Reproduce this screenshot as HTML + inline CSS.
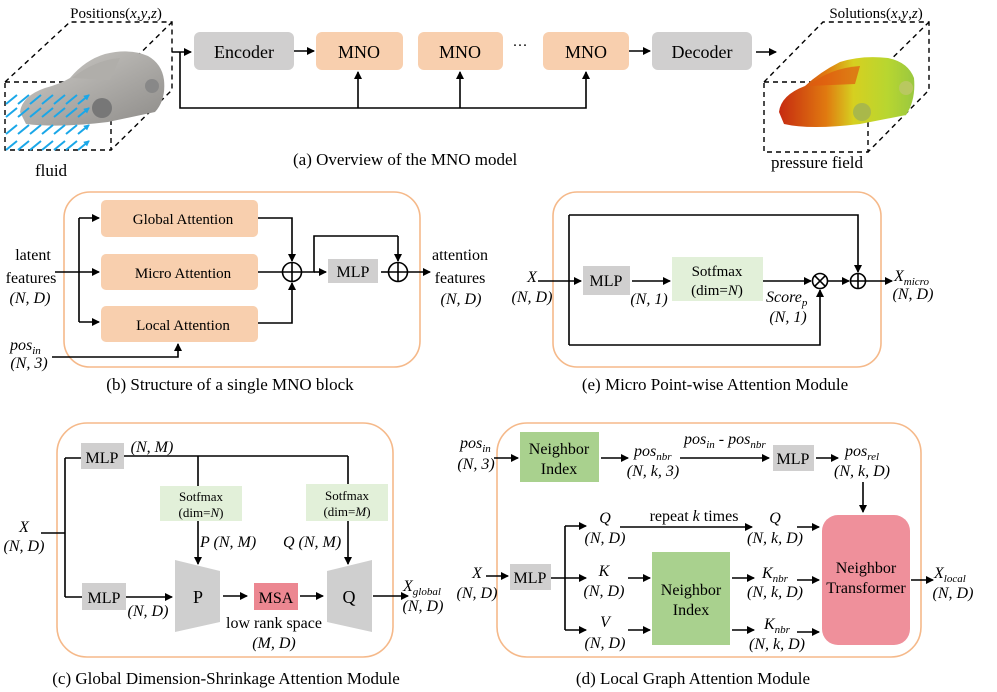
<!DOCTYPE html>
<html><head><meta charset="utf-8"><style>
html,body{margin:0;padding:0;background:#fff;}
svg{display:block;font-family:"Liberation Serif",serif;}
.i{font-style:italic}
</style></head><body>
<svg width="997" height="692" viewBox="0 0 997 692" xmlns="http://www.w3.org/2000/svg">
<defs>
<marker id="a" markerWidth="8" markerHeight="8" refX="7" refY="4" orient="auto" markerUnits="userSpaceOnUse"><path d="M0,0 L8,4 L0,8 z" fill="#000"/></marker>
<marker id="b" markerWidth="6" markerHeight="6" refX="5" refY="3" orient="auto" markerUnits="userSpaceOnUse"><path d="M0,0 L6,3 L0,6 z" fill="#1aa7e8"/></marker>
<linearGradient id="cg" x1="0" y1="0" x2="1" y2="1"><stop offset="0" stop-color="#cfcdc9"/><stop offset="1" stop-color="#8d8b88"/></linearGradient>
<linearGradient id="pg" x1="0" y1="0" x2="1" y2="0"><stop offset="0" stop-color="#c62a10"/><stop offset="0.35" stop-color="#e07a10"/><stop offset="0.55" stop-color="#d6d020"/><stop offset="0.8" stop-color="#b8d630"/><stop offset="1" stop-color="#9ac840"/></linearGradient>
</defs>
<g stroke="#000" stroke-width="1.6" fill="none">
<g stroke-dasharray="5,4" stroke-width="1.4">
<rect x="5" y="82" width="106" height="68"/>
<path d="M5,82 L70,22 L172,22 L172,90 L111,150 M111,82 L172,22"/>
<rect x="764" y="82" width="104" height="70"/>
<path d="M764,82 L823,22 L929,22 L929,90 L868,152 M868,82 L929,22"/>
</g>
</g>
<!-- gray car -->
<path d="M20,112 Q22,96 45,88 Q60,84 70,78 Q85,60 105,54 Q130,48 148,56 Q162,64 164,80 Q166,100 155,112 L108,122 Q60,128 26,124 Z" fill="url(#cg)"/>
<path d="M72,78 Q95,60 120,58 L110,80 Z" fill="#b0aeaa"/>
<circle cx="102" cy="108" r="10" fill="#777"/><circle cx="152" cy="86" r="7" fill="#888"/>
<!-- blue arrows -->
<g stroke="#1aa7e8" stroke-width="2" marker-end="url(#b)">
<path d="M6,104 l11,-9 M18,104 l11,-9 M30,104 l11,-9 M42,104 l11,-9 M54,104 l11,-9 M66,104 l11,-9 M78,104 l11,-9"/>
<path d="M6,117 l11,-9 M18,117 l11,-9 M30,117 l11,-9 M42,117 l11,-9 M54,117 l11,-9 M66,117 l11,-9 M78,117 l11,-9"/>
<path d="M6,134 l11,-9 M18,134 l11,-9 M30,134 l11,-9 M42,134 l11,-9 M54,134 l11,-9 M66,134 l11,-9 M78,134 l11,-9"/>
<path d="M6,150 l11,-9 M18,150 l11,-9 M30,150 l11,-9 M42,150 l11,-9 M54,150 l11,-9 M66,150 l11,-9 M78,150 l11,-9"/>
</g>
<!-- pressure car -->
<path d="M779,112 Q781,95 805,86 Q820,72 840,62 Q862,55 888,58 Q908,62 914,78 Q916,100 906,115 L860,124 Q810,130 784,124 Z" fill="url(#pg)"/>
<path d="M808,86 Q830,68 860,66 L855,84 Z" fill="#e05a10" opacity="0.7"/>
<circle cx="862" cy="112" r="9" fill="#a9b84a"/><circle cx="906" cy="88" r="7" fill="#b9c860"/>
<text x="116" y="18" font-size="15" text-anchor="middle">Positions(<tspan class="i">x</tspan>,<tspan class="i">y</tspan>,<tspan class="i">z</tspan>)</text>
<text x="51" y="176" font-size="17" text-anchor="middle">fluid</text>
<text x="876" y="18" font-size="15" text-anchor="middle">Solutions(<tspan class="i">x</tspan>,<tspan class="i">y</tspan>,<tspan class="i">z</tspan>)</text>
<text x="817" y="168" font-size="17" text-anchor="middle">pressure field</text>
<rect x="194" y="32" width="100" height="38" rx="6" fill="#d0cfcf"/>
<text x="244" y="58" font-size="18" text-anchor="middle">Encoder</text>
<rect x="316" y="32" width="87" height="38" rx="6" fill="#f8cfae"/>
<text x="359" y="58" font-size="18" text-anchor="middle">MNO</text>
<rect x="418" y="32" width="85" height="38" rx="6" fill="#f8cfae"/>
<text x="460" y="58" font-size="18" text-anchor="middle">MNO</text>
<text x="520" y="50" font-size="15" text-anchor="middle">···</text>
<rect x="543" y="32" width="86" height="38" rx="6" fill="#f8cfae"/>
<text x="586" y="58" font-size="18" text-anchor="middle">MNO</text>
<rect x="652" y="32" width="100" height="38" rx="6" fill="#d0cfcf"/>
<text x="702" y="58" font-size="18" text-anchor="middle">Decoder</text>
<g stroke="#000" stroke-width="1.6" fill="none" marker-end="url(#a)">
<path d="M172,52 L191,52"/>
<path d="M294,51 L314,51"/>
<path d="M629,51 L650,51"/>
<path d="M756,52 L776,52"/>
<path d="M358,108 L358,72"/>
<path d="M460,108 L460,72"/>
<path d="M180,52 L180,108 L586,108 L586,72"/>
</g>
<text x="293" y="165" font-size="17">(a)  Overview of the MNO model</text>

<!-- Panel b -->
<rect x="64" y="192" width="356" height="175" rx="26" fill="none" stroke="#f5b98a" stroke-width="1.6"/>
<rect x="101" y="200" width="157" height="37" rx="5" fill="#f8cfae"/>
<rect x="101" y="254" width="157" height="36" rx="5" fill="#f8cfae"/>
<rect x="101" y="306" width="157" height="36" rx="5" fill="#f8cfae"/>
<text x="183" y="224" font-size="15" text-anchor="middle">Global Attention</text>
<text x="183" y="278" font-size="15" text-anchor="middle">Micro Attention</text>
<text x="183" y="330" font-size="15" text-anchor="middle">Local Attention</text>
<rect x="328" y="259" width="50" height="24" fill="#d0cfcf"/>
<text x="353" y="277" font-size="16" text-anchor="middle">MLP</text>
<g stroke="#000" stroke-width="1.6" fill="none">
<circle cx="292" cy="272" r="9.5"/><path d="M282.5,272 h19 M292,262.5 v19"/>
<circle cx="398" cy="272" r="9.5"/><path d="M388.5,272 h19 M398,262.5 v19"/>
<path d="M55,272 L79,272 M79,218 L79,322"/>
<path d="M302,272 L314,272 L314,236 L398,236"/>
<path d="M381,272 L388,272"/>
<path d="M258,272 L282,272"/>
</g>
<g stroke="#000" stroke-width="1.6" fill="none" marker-end="url(#a)">
<path d="M79,218 L99,218"/><path d="M79,272 L99,272"/><path d="M79,322 L99,322"/>
<path d="M258,218 L292,218 L292,261"/>
<path d="M258,323 L292,323 L292,283"/>
<path d="M314,272 L326,272"/>
<path d="M398,236 L398,261"/>
<path d="M408,272 L430,272"/>
<path d="M52,357 L178,357 L178,344"/>
</g>
<text x="33" y="260" font-size="16" text-anchor="middle">latent</text>
<text x="31" y="283" font-size="16" text-anchor="middle">features</text>
<text x="30" y="303" font-size="16" text-anchor="middle" class="i">(N, D)</text>
<text x="460" y="260" font-size="16" text-anchor="middle">attention</text>
<text x="460" y="283" font-size="16" text-anchor="middle">features</text>
<text x="461" y="304" font-size="16" text-anchor="middle" class="i">(N, D)</text>
<text x="10" y="350" font-size="16" class="i">pos<tspan font-size="11" dy="4">in</tspan></text>
<text x="29" y="368" font-size="16" text-anchor="middle" class="i">(N, 3)</text>
<text x="230" y="390" font-size="17" text-anchor="middle">(b) Structure of a single MNO block</text>

<!-- Panel e -->
<rect x="553" y="192" width="328" height="175" rx="24" fill="none" stroke="#f5b98a" stroke-width="1.6"/>
<rect x="583" y="266" width="47" height="29" fill="#d0cfcf"/>
<text x="606" y="286" font-size="16" text-anchor="middle">MLP</text>
<rect x="672" y="257" width="91" height="44" fill="#e2f0d9"/>
<text x="717" y="276" font-size="15" text-anchor="middle">Sotfmax</text>
<text x="717" y="295" font-size="15" text-anchor="middle">(dim=<tspan class="i">N</tspan>)</text>
<g stroke="#000" stroke-width="1.6" fill="none">
<circle cx="820" cy="281" r="7.5"/><path d="M814.7,275.7 l10.6,10.6 M825.3,275.7 l-10.6,10.6"/>
<circle cx="858" cy="281" r="7.5"/><path d="M850.5,281 h15 M858,273.5 v15"/>
<path d="M569,215 L569,345"/>
</g>
<g stroke="#000" stroke-width="1.6" fill="none" marker-end="url(#a)">
<path d="M538,281 L581,281"/>
<path d="M632,281 L670,281"/>
<path d="M763,281 L811,281"/>
<path d="M828,281 L849,281"/>
<path d="M569,215 L858,215 L858,272"/>
<path d="M569,345 L820,345 L820,290"/>
<path d="M866,281 L892,281"/>
</g>
<text x="532" y="282" font-size="16" text-anchor="middle" class="i">X</text>
<text x="532" y="302" font-size="16" text-anchor="middle" class="i">(N, D)</text>
<text x="649" y="304" font-size="16" text-anchor="middle" class="i">(N, 1)</text>
<text x="766" y="302" font-size="16" class="i">Score<tspan font-size="11" dy="4">p</tspan></text>
<text x="788" y="322" font-size="16" text-anchor="middle" class="i">(N, 1)</text>
<text x="894" y="281" font-size="16" class="i">X<tspan font-size="11" dy="4">micro</tspan></text>
<text x="913" y="299" font-size="16" text-anchor="middle" class="i">(N, D)</text>
<text x="715" y="390" font-size="17" text-anchor="middle">(e) Micro Point-wise Attention Module</text>

<!-- Panel c -->
<rect x="57" y="423" width="336" height="234" rx="30" fill="none" stroke="#f5b98a" stroke-width="1.6"/>
<rect x="81" y="443" width="43" height="26" fill="#d0cfcf"/>
<text x="102" y="463" font-size="16" text-anchor="middle">MLP</text>
<rect x="82" y="583" width="44" height="27" fill="#d0cfcf"/>
<text x="104" y="603" font-size="16" text-anchor="middle">MLP</text>
<rect x="160" y="486" width="82" height="35" fill="#e2f0d9"/>
<text x="201" y="501" font-size="13" text-anchor="middle">Sotfmax</text>
<text x="201" y="517" font-size="13" text-anchor="middle">(dim=<tspan class="i">N</tspan>)</text>
<rect x="306" y="484" width="82" height="37" fill="#e2f0d9"/>
<text x="347" y="500" font-size="13" text-anchor="middle">Sotfmax</text>
<text x="347" y="516" font-size="13" text-anchor="middle">(dim=<tspan class="i">M</tspan>)</text>
<path d="M175,560 L220,571 L220,622 L175,632 Z" fill="#cfcfcf"/>
<text x="198" y="603" font-size="18" text-anchor="middle">P</text>
<path d="M327,571 L372,560 L372,632 L327,622 Z" fill="#cfcfcf"/>
<text x="349" y="603" font-size="18" text-anchor="middle">Q</text>
<rect x="254" y="583" width="44" height="27" fill="#ec8791"/>
<text x="276" y="603" font-size="16" text-anchor="middle">MSA</text>
<g stroke="#000" stroke-width="1.6" fill="none">
<path d="M41,533 L65,533 M65,458 L65,597 M65,458 L81,458 M65,597 L82,597"/>
<path d="M124,456 L348,456 M198,456 L198,486 M348,456 L348,484"/>
</g>
<g stroke="#000" stroke-width="1.6" fill="none" marker-end="url(#a)">
<path d="M198,521 L198,564"/>
<path d="M348,521 L348,564"/>
<path d="M126,597 L172,597"/>
<path d="M223,596 L247,596"/>
<path d="M300,596 L323,596"/>
<path d="M373,596 L408,596"/>
</g>
<text x="24" y="532" font-size="16" text-anchor="middle" class="i">X</text>
<text x="24" y="551" font-size="16" text-anchor="middle" class="i">(N, D)</text>
<text x="152" y="452" font-size="16" text-anchor="middle" class="i">(N, M)</text>
<text x="200" y="547" font-size="16" class="i">P (N, M)</text>
<text x="283" y="547" font-size="16" class="i">Q (N, M)</text>
<text x="148" y="616" font-size="16" text-anchor="middle" class="i">(N, D)</text>
<text x="274" y="628" font-size="16" text-anchor="middle">low rank space</text>
<text x="274" y="648" font-size="16" text-anchor="middle" class="i">(M, D)</text>
<text x="403" y="591" font-size="16" class="i">X<tspan font-size="11" dy="4">global</tspan></text>
<text x="423" y="611" font-size="16" text-anchor="middle" class="i">(N, D)</text>
<text x="226" y="684" font-size="17" text-anchor="middle">(c) Global Dimension-Shrinkage Attention Module</text>

<!-- Panel d -->
<rect x="497" y="423" width="424" height="234" rx="30" fill="none" stroke="#f5b98a" stroke-width="1.6"/>
<rect x="520" y="432" width="79" height="50" fill="#a9d18e"/>
<text x="559" y="454" font-size="16" text-anchor="middle">Neighbor</text>
<text x="559" y="474" font-size="16" text-anchor="middle">Index</text>
<rect x="773" y="445" width="41" height="26" fill="#d0cfcf"/>
<text x="793" y="464" font-size="16" text-anchor="middle">MLP</text>
<rect x="822" y="515" width="88" height="130" rx="16" fill="#ef909b"/>
<text x="866" y="573" font-size="16" text-anchor="middle">Neighbor</text>
<text x="866" y="593" font-size="16" text-anchor="middle">Transformer</text>
<rect x="510" y="564" width="41" height="26" fill="#d0cfcf"/>
<text x="530" y="583" font-size="16" text-anchor="middle">MLP</text>
<rect x="652" y="552" width="78" height="93" fill="#a9d18e"/>
<text x="691" y="595" font-size="16" text-anchor="middle">Neighbor</text>
<text x="691" y="615" font-size="16" text-anchor="middle">Index</text>
<g stroke="#000" stroke-width="1.6" fill="none">
<path d="M551,578 L565,578 M565,526 L565,630"/>
</g>
<g stroke="#000" stroke-width="1.6" fill="none" marker-end="url(#a)">
<path d="M494,458 L518,458"/>
<path d="M601,458 L628,458"/>
<path d="M680,458 L769,458"/>
<path d="M816,458 L838,458"/>
<path d="M863,482 L863,512"/>
<path d="M486,576 L508,576"/>
<path d="M565,526 L586,526"/>
<path d="M565,578 L586,578"/>
<path d="M565,630 L586,630"/>
<path d="M620,527 L752,527"/>
<path d="M797,527 L819,527"/>
<path d="M628,578 L650,578"/>
<path d="M628,630 L650,630"/>
<path d="M732,578 L754,578"/>
<path d="M732,630 L754,630"/>
<path d="M797,580 L819,580"/>
<path d="M797,632 L819,632"/>
<path d="M911,580 L933,580"/>
</g>
<text x="460" y="448" font-size="16" class="i">pos<tspan font-size="11" dy="4">in</tspan></text>
<text x="476" y="469" font-size="16" text-anchor="middle" class="i">(N, 3)</text>
<text x="634" y="456" font-size="16" class="i">pos<tspan font-size="11" dy="4">nbr</tspan></text>
<text x="653" y="476" font-size="16" text-anchor="middle" class="i">(N, k, 3)</text>
<text x="684" y="444" font-size="16" class="i">pos<tspan font-size="11" dy="4">in</tspan><tspan dy="-4"> - pos</tspan><tspan font-size="11" dy="4">nbr</tspan></text>
<text x="845" y="456" font-size="16" class="i">pos<tspan font-size="11" dy="4">rel</tspan></text>
<text x="862" y="476" font-size="16" text-anchor="middle" class="i">(N, k, D)</text>
<text x="477" y="578" font-size="16" text-anchor="middle" class="i">X</text>
<text x="477" y="598" font-size="16" text-anchor="middle" class="i">(N, D)</text>
<text x="605" y="523" font-size="16" text-anchor="middle" class="i">Q</text>
<text x="605" y="543" font-size="16" text-anchor="middle" class="i">(N, D)</text>
<text x="694" y="521" font-size="16" text-anchor="middle">repeat <tspan class="i">k</tspan> times</text>
<text x="775" y="523" font-size="16" text-anchor="middle" class="i">Q</text>
<text x="775" y="543" font-size="16" text-anchor="middle" class="i">(N, k, D)</text>
<text x="604" y="576" font-size="16" text-anchor="middle" class="i">K</text>
<text x="604" y="596" font-size="16" text-anchor="middle" class="i">(N, D)</text>
<text x="605" y="627" font-size="16" text-anchor="middle" class="i">V</text>
<text x="605" y="648" font-size="16" text-anchor="middle" class="i">(N, D)</text>
<text x="762" y="578" font-size="16" class="i">K<tspan font-size="11" dy="4">nbr</tspan></text>
<text x="775" y="597" font-size="16" text-anchor="middle" class="i">(N, k, D)</text>
<text x="764" y="629" font-size="16" class="i">K<tspan font-size="11" dy="4">nbr</tspan></text>
<text x="777" y="649" font-size="16" text-anchor="middle" class="i">(N, k, D)</text>
<text x="934" y="578" font-size="16" class="i">X<tspan font-size="11" dy="4">local</tspan></text>
<text x="953" y="598" font-size="16" text-anchor="middle" class="i">(N, D)</text>
<text x="693" y="684" font-size="17" text-anchor="middle">(d) Local Graph Attention Module</text>
</svg>
</body></html>
